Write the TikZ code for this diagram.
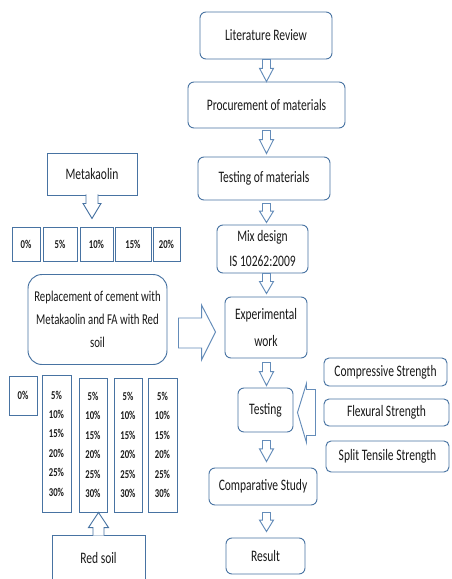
\documentclass[tikz,border=0pt]{standalone}
\usepackage{fontspec}
\setmainfont{Carlito}[FakeStretch=0.72]
\usetikzlibrary{calc}
\definecolor{bx}{RGB}{72,115,162}
\definecolor{ar}{RGB}{100,140,185}
\newcommand\downarr[4]{%
  \draw[arr] let \p1=($(axis |- #1.south)+(0,#3)$), \p2=($(axis |- #2.north)+(0,-#4)$),
    \p3=($(\p1)!0.4!(\p2)$) in
    (\x1-4pt,\y1) -- (\x1+4pt,\y1) -- (\x1+4pt,\y3) -- (\x1+7pt,\y3) -- (\x1,\y2)
    -- (\x1-7pt,\y3) -- (\x1-4pt,\y3) -- cycle;}
\begin{document}
\begin{tikzpicture}[x=1pt,y=-1pt,
  box/.style={draw=bx, line width=0.95pt, fill=white, rounded corners=6pt, align=center,
    inner sep=0pt, text=black!90, font=\fontsize{16}{25}\selectfont},
  wh/.style 2 args={minimum width=#1pt, minimum height=#2pt},
  sq/.style={box, rounded corners=0pt},
  pct/.style={sq, font=\fontsize{12}{19.4}\selectfont\bfseries},
  arr/.style={draw=ar, line width=0.95pt, fill=white, line join=miter}]
\useasboundingbox (0,0) rectangle (452,579);
\clip (0,0) rectangle (452,579);
\coordinate (axis) at (266.5,0);
% main column
\node[box, wh={132}{47}] (lit) at (266,35.5) {Literature Review};
\node[box, wh={157}{46}] (proc) at (266.5,105) {Procurement of materials};
\node[box, wh={132}{43}] (testm) at (264,178.5) {Testing of materials};
\node[box, wh={91}{48}] (mix) at (262.5,249) {Mix design\\IS 10262:2009};
\node[box, wh={82}{61}, font=\fontsize{16}{27}\selectfont] (exp) at (266,327.5) {Experimental\\work};
\node[box, wh={55}{44}] (testing) at (265.5,410) {Testing};
\node[box, wh={108}{37}] (comp) at (263,486.5) {Comparative Study};
\node[box, wh={79}{36}] (result) at (265.5,556) {Result};
% strengths
\node[box, wh={123}{28}, rounded corners=5pt] (cs) at (385.5,372) {Compressive Strength};
\node[box, wh={125}{27}, rounded corners=5pt] (fs) at (386.5,412.5) {Flexural Strength};
\node[box, wh={123}{31}, rounded corners=5pt] (sts) at (387.5,456.5) {Split Tensile Strength};
% down arrows
\downarr{lit}{proc}{0}{0}
\downarr{proc}{testm}{2}{3}
\downarr{testm}{mix}{3}{2}
\downarr{mix}{exp}{0}{3}
\downarr{exp}{testing}{4}{2}
\downarr{testing}{comp}{8}{6}
\downarr{comp}{result}{7}{6}
% strengths arrow into testing
\coordinate (st) at ($(testing.east |- fs.west)+(4,0)$);
\draw[arr] (st) -- ($(st)+(9,-29)$) -- ($(st)+(9,-23)$) -- ($(st)+(18,-23)$)
  -- ($(st)+(18,23)$) -- ($(st)+(9,23)$) -- ($(st)+(9,30)$) -- cycle;
% metakaolin callout
\node[sq, wh={90}{42}] (meta) at (92,174) {Metakaolin};
\node[pct, wh={28}{34}] (p0) at (26,244) {0\%};
\node[pct, wh={34}{34}] (p5) at (60,244) {5\%};
\node[pct, wh={33}{34}] (p10) at (96.5,244) {10\%};
\node[pct, wh={36}{34}] (p15) at (133,244) {15\%};
\node[pct, wh={27}{34}] (p20) at (166.5,244) {20\%};
\draw[arr, draw=bx] ($(meta.south)+(-6,-1)$) -- ($(meta.south)+(-6,8)$) -- ($(meta.south)+(-9,8)$)
  -- ($(meta.south)+(0,23)$) -- ($(meta.south)+(9,8)$) -- ($(meta.south)+(6,8)$) -- ($(meta.south)+(6,-1)$);
% replacement
\node[box, wh={139}{90}, rounded corners=14pt, font=\fontsize{15}{23}\selectfont] (repl) at (97.5,319.5)
  {Replacement of cement with\\Metakaolin and FA with Red\\soil};
% big arrow to experimental work
\coordinate (ra) at (0,332);
\coordinate (s) at ($(repl.east |- ra)+(11,0)$);
\coordinate (t) at ($(exp.west |- ra)+(-9,0)$);
\draw[arr] ($(s)+(0,-14)$) -- ($(t)+(-14,-14)$) -- ($(t)+(-14,-27)$) -- (t)
  -- ($(t)+(-14,28)$) -- ($(t)+(-14,16)$) -- ($(s)+(0,16)$) -- cycle;
% red soil columns
\node[pct, wh={28}{39}] (z) at (23,395.5) {0\%};
\node[pct, wh={29}{137}] (c1) at (56.5,443.5) {5\%\\10\%\\15\%\\20\%\\25\%\\30\%};
\node[pct, wh={28}{134}] (c2) at (93,445) {5\%\\10\%\\15\%\\20\%\\25\%\\30\%};
\node[pct, wh={28}{134}] (c3) at (128,445) {5\%\\10\%\\15\%\\20\%\\25\%\\30\%};
\node[pct, wh={29}{134}] (c4) at (162.5,445) {5\%\\10\%\\15\%\\20\%\\25\%\\30\%};
% red soil callout
\node[sq, wh={93}{46}] (red) at (98.5,558) {Red soil};
\coordinate (rt) at (red.north |- c2.south);
\draw[arr, draw=bx] ($(red.north)+(-5.5,1)$) -- ($(red.north)+(-5.5,-7)$) -- ($(red.north)+(-10,-7)$)
  -- (rt) -- ($(red.north)+(10,-7)$) -- ($(red.north)+(5.5,-7)$) -- ($(red.north)+(5.5,1)$);
\end{tikzpicture}
\end{document}
